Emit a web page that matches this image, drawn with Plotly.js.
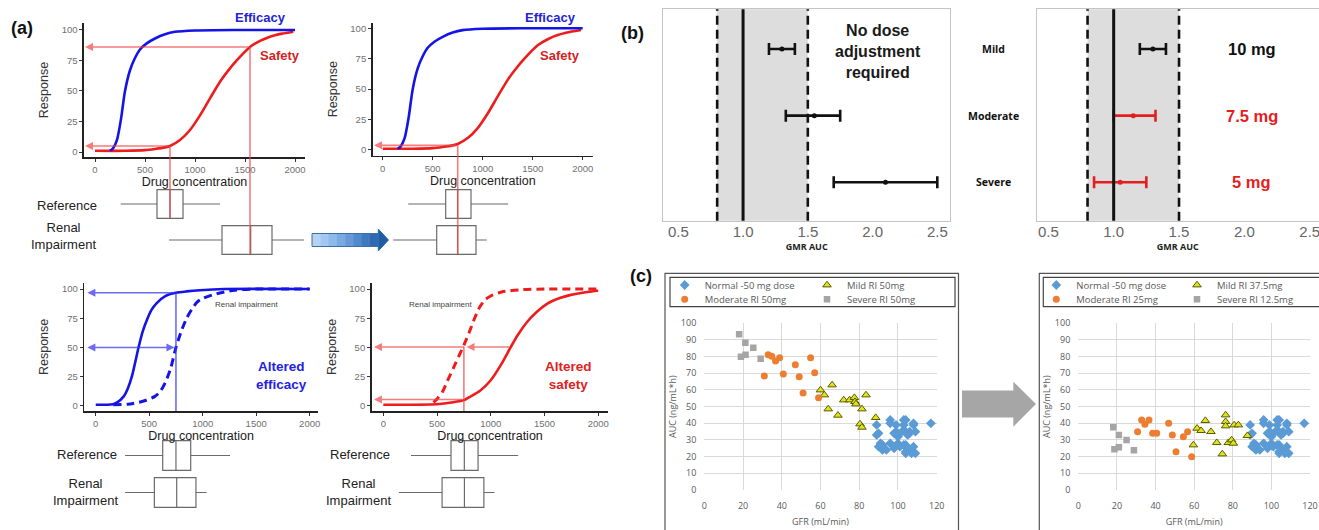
<!DOCTYPE html>
<html><head><meta charset="utf-8">
<script src="https://cdn.plot.ly/plotly-3.0.1.min.js"></script>
<style>html,body{margin:0;padding:0;background:#fff;}#chart{width:1319px;height:530px;}</style>
</head><body><div id="chart"></div>
<script>
// ================= DATA =================
// Panel (a) – concentration / response curves
const effConc   = [150, 180, 220, 260, 300, 350, 400, 450, 517, 600, 700, 800, 1000, 1400, 2000];
const effResp   = [1, 3, 10, 27, 50, 67, 77, 84, 89, 93, 96.5, 98.5, 99.6, 100, 100];
const safConc   = [0, 300, 500, 600, 700, 750, 850, 950, 1050, 1150, 1250, 1330, 1417, 1550, 1650, 1750, 1870, 1983];
const safResp   = [1, 1, 1.5, 2.5, 3.8, 4.9, 9.8, 18, 30, 44, 57.6, 66.5, 75, 86, 91, 94.5, 97, 98.6];
const effConc2  = [0, 160, 200, 260, 300, 340, 400, 440, 480, 520, 570, 650, 750, 850, 975, 1200, 2000];
const effResp2  = [1, 1.5, 3, 8, 15, 26, 50, 64, 74, 82, 88, 94, 96.8, 98, 99, 100, 100];
const effRIConc = [164, 300, 440, 550, 600, 650, 700, 750, 800, 850, 900, 950, 1000, 1130, 1300, 1500, 2000];
const effRIResp = [1, 1.5, 4, 8, 12, 20, 32, 50, 64, 75, 83, 89, 92, 96, 99, 100, 100];
const safConc2  = [0, 500, 600, 700, 750, 810, 900, 1000, 1100, 1184, 1250, 1340, 1430, 1527, 1650, 1745, 1900, 2000];
const safResp2  = [1, 1.5, 2.5, 4, 5, 8, 13, 22, 36, 50, 60.5, 72, 80.5, 87.5, 92.5, 95, 97.5, 98.5];
const safRIConc = [467, 500, 550, 600, 650, 700, 750, 800, 850, 900, 950, 1000, 1100, 1300, 1500, 2000];
const safRIResp = [3, 6, 12, 22, 32, 42, 52, 63, 75, 85, 91, 94, 97.5, 99.5, 100, 100];

// guide lines (concentration, response)
const a1GuideConc = [1550, 750];  const a1GuideResp = [86, 4.9];
const a2GuideConc = [750];        const a2GuideResp = [3.8];
const a3GuideConc = [750, 750];   const a3GuideResp = [96.8, 50];
const a4GuideConc = [1184, 750];  const a4GuideResp = [50.4, 5.5];

// exposure box plots: [Reference, Renal Impairment]
const boxLabels = ['Reference', 'Renal<br>Impairment'];
const a1Low = [257, 740];  const a1Q1 = [620, 1270]; const a1Med = [750, 1557]; const a1Q3 = [880, 1770]; const a1High = [1250, 2090];
const a2Low = [255, 105];  const a2Q1 = [630, 540];  const a2Med = [750, 750];  const a2Q3 = [883, 933];  const a2High = [1255, 1040];
const a3Low = [274, 274];  const a3Q1 = [626, 548];  const a3Med = [750, 757];  const a3Q3 = [888, 937];  const a3High = [1255, 1037];
const a4Low = [258, 144];  const a4Q1 = [630, 547];  const a4Med = [754, 755];  const a4Q3 = [882, 936];  const a4High = [1255, 1035];

// Panel (b) – GMR of AUC with 90% CI
const severity   = ['Mild', 'Moderate', 'Severe'];
const gmrBefore  = [1.3, 1.55, 2.1];
const lowBefore  = [1.2, 1.33, 1.7];
const highBefore = [1.4, 1.75, 2.5];
const gmrAfter   = [1.3, 1.15, 1.05];
const lowAfter   = [1.2, 1.0, 0.85];
const highAfter  = [1.4, 1.32, 1.25];
const doses      = ['10 mg', '7.5 mg', '5 mg'];
const noEffectBounds = [0.8, 1.5];
const gmrUnity = [1.0];
const gmrTicks = [0.5, 1.0, 1.5, 2.0, 2.5];

// Panel (c) – AUC vs GFR
const normalGFR = [89, 89, 90, 91, 90, 92, 92, 94, 96, 96, 96, 98, 99, 100, 100, 100, 101, 98, 99, 103, 104, 103, 102, 104, 105, 106, 103, 104, 105, 104, 104, 106, 108, 108, 108, 109, 107, 109, 117, 100, 104];
const normalAUC = [39, 33, 34, 28, 26, 24, 27, 24, 42, 40, 28, 34, 39, 34, 32, 28, 26, 25, 35, 42, 42, 39, 35, 35, 33, 35, 27, 26, 25, 23, 22, 34, 40, 39, 26, 22, 22, 35, 40, 27, 27];
const mildGFR50 = [60, 62, 64, 66, 69, 72, 75, 77.5, 77.8, 78.3, 80.4, 81.4, 81.4, 83.5, 88.5];
const mildAUC50 = [60, 57, 48.6, 63, 44.8, 54, 54, 55.4, 53, 51.6, 39.6, 37.6, 48.6, 57, 43.4];
const modGFR50  = [31, 33, 34.8, 36.8, 38.9, 40.8, 47, 49, 51, 54.9, 57, 59];
const modAUC50  = [68.4, 81.2, 80.2, 77.4, 79.4, 69.6, 75.2, 68, 58.2, 79.4, 70.4, 55.4];
const sevGFR50  = [18, 18.9, 21.2, 21.3, 25.3, 29.1];
const sevAUC50  = [93.4, 80, 88.4, 81.2, 85.4, 78.8];
const mildGFRAdj = [59.6, 61.5, 63.6, 65.8, 68.7, 71.7, 74.6, 76.3, 76.3, 76.3, 77.7, 79.4, 80.3, 80.7, 82.9, 87.6];
const mildAUCAdj = [27, 37, 35.6, 41.6, 35, 28.4, 21.6, 45, 41, 38.4, 28.4, 30, 28, 39, 39, 32.6];
const modGFRAdj  = [30.7, 32.8, 34.5, 36.6, 38.5, 40.6, 46.8, 48.7, 50.6, 54.4, 56.6, 58.7];
const modAUCAdj  = [35, 42, 39.4, 42, 34, 34, 40, 33, 23, 32, 35, 20];
const sevGFRAdj  = [18.1, 18.7, 21, 21, 25, 28.8];
const sevAUCAdj  = [37.6, 24.4, 25.6, 33, 30, 23.8];
const namesBefore = ['Normal -50 mg dose', 'Mild RI 50mg', 'Moderate RI 50mg', 'Severe RI 50mg'];
const namesAfter  = ['Normal -50 mg dose', 'Mild RI 37.5mg', 'Moderate RI 25mg', 'Severe RI 12.5mg'];

// ================= GEOMETRY (pixels) =================
const W = 1319, H = 530;
const PX = v => v / W;
const PY = v => 1 - v / H;
const G = {
  a1: {x: [84, 305], y: [23, 157], xr: [-110, 2100], yr: [-4.1, 105.7]},
  a1b: {y: [186, 258], yr: [0.5, 2.5]},
  a2: {x: [372.7, 593], y: [22.7, 155.7], xr: [-100, 2103], yr: [-4.7, 104.6]},
  a2b: {y: [186, 258], yr: [0.5, 2.5]},
  a3: {x: [84.3, 318], y: [282.7, 411], xr: [-107, 2078], yr: [-4.3, 105.4]},
  a3b: {y: [437, 511], yr: [0.5, 2.5]},
  a4: {x: [371.7, 608.3], y: [282.7, 411], xr: [-108, 2094], yr: [-4.3, 105.4]},
  a4b: {y: [437, 511], yr: [0.5, 2.5]},
  b1: {x: [663.3, 950], y: [9.3, 220.7], xr: [0.384, 2.598]},
  b2: {x: [1036.7, 1319], y: [9.3, 220.7], xr: [0.411, 2.571]},
  c1: {x: [704.3, 936.7], y: [323.3, 490]},
  c2: {x: [1078.3, 1310], y: [323.3, 490]}
};
function paperY(g, v) {
  const pix = g.y[1] - (v - g.yr[0]) / (g.yr[1] - g.yr[0]) * (g.y[1] - g.y[0]);
  return 1 - pix / H;
}
const domX = g => [PX(g.x[0]), PX(g.x[1])];
const domY = g => [PY(g.y[1]), PY(g.y[0])];

const FA = 'Liberation Sans, Arial, sans-serif';
const FO = 'Open Sans, Noto Sans, sans-serif';
const BLUE = '#1414e6', RED = '#ee1c1c';
const RGUIDE = 'rgba(240,70,70,0.7)', BGUIDE = 'rgba(60,60,240,0.75)';

// ================= AXES =================
const layout = {
  width: W, height: H, margin: {l: 0, r: 0, t: 0, b: 0},
  paper_bgcolor: '#fff', plot_bgcolor: 'rgba(0,0,0,0)',
  font: {family: FA}, showlegend: true,
  annotations: [], shapes: []
};
function chartAxes(n, g) {
  const ax = n === 1 ? '' : n;
  layout['xaxis' + ax] = {
    domain: domX(g), range: g.xr, anchor: 'y' + ax, tick0: 0, dtick: 500,
    showline: true, linecolor: '#222', linewidth: 1.6, ticks: 'outside', ticklen: 3, tickcolor: '#333',
    tickfont: {family: FA, size: 9.5, color: '#707070'}, showgrid: false, zeroline: false,
    title: {text: 'Drug concentration', font: {family: FA, size: 12.5, color: '#1a1a1a'}, standoff: 3}
  };
  layout['yaxis' + ax] = {
    domain: domY(g), range: g.yr, anchor: 'x' + ax, tick0: 0, dtick: 25,
    showline: true, linecolor: '#222', linewidth: 1.6, ticks: 'outside', ticklen: 3, tickcolor: '#333',
    tickfont: {family: FA, size: 9.5, color: '#707070'}, showgrid: false, zeroline: false,
    title: {text: 'Response', font: {family: FA, size: 12.5, color: '#333'}, standoff: 10}
  };
}
function boxAxes(n, g, gb) {
  layout['xaxis' + n] = {domain: domX(g), range: g.xr, anchor: 'y' + n, visible: false};
  layout['yaxis' + n] = {domain: domY({y: gb.y}), range: gb.yr, anchor: 'x' + n, visible: false};
}
chartAxes(1, G.a1); boxAxes(2, G.a1, G.a1b);
chartAxes(3, G.a2); boxAxes(4, G.a2, G.a2b);
chartAxes(5, G.a3); boxAxes(6, G.a3, G.a3b);
chartAxes(7, G.a4); boxAxes(8, G.a4, G.a4b);

function gmrAxes(n, g) {
  layout['xaxis' + n] = {
    domain: domX(g), range: g.xr, anchor: 'y' + n, tickvals: gmrTicks, ticktext: gmrTicks.map(v => v.toFixed(1)),
    showline: true, mirror: true, linecolor: '#c4c4c4', linewidth: 1.2, ticks: '', showgrid: false, zeroline: false,
    tickfont: {family: FA, size: 15, color: '#666'}, ticklabelstandoff: -3, ticklabeloverflow: 'allow',
    title: {text: '<b>GMR AUC</b>', font: {family: FO, size: 9, color: '#222'}, standoff: 0}
  };
  layout['yaxis' + n] = {
    domain: domY(g), type: 'category', categoryorder: 'array', categoryarray: severity,
    range: [2.576, -0.596], anchor: 'x' + n, showline: true, mirror: true, linecolor: '#c4c4c4', linewidth: 1.2,
    showticklabels: false, ticks: '', showgrid: false, zeroline: false
  };
}
gmrAxes(9, G.b1); gmrAxes(10, G.b2);

function scatAxes(n, g) {
  layout['xaxis' + n] = {
    domain: domX(g), range: [0, 120], dtick: 20, anchor: 'y' + n, showgrid: true, gridcolor: '#d9d9d9', gridwidth: 1,
    showline: false, zeroline: false, ticks: '', ticklabelstandoff: 9,
    tickfont: {family: FO, size: 9, color: '#595959'},
    title: {text: 'GFR (mL/min)', font: {family: FO, size: 9, color: '#595959'}, standoff: 7}
  };
  layout['yaxis' + n] = {
    domain: domY(g), range: [0, 100], dtick: 10, anchor: 'x' + n, showgrid: true, gridcolor: '#d9d9d9', gridwidth: 1,
    showline: false, zeroline: false, ticks: '', ticklabelstandoff: 7,
    tickfont: {family: FO, size: 9, color: '#595959'},
    title: {text: 'AUC (ng/mL*h)', font: {family: FO, size: 9, color: '#595959'}, standoff: 2}
  };
}
scatAxes(11, G.c1); scatAxes(12, G.c2);

// ================= TRACES =================
const traces = [];
function curve(xa, ya, xs, ys, color, dash) {
  traces.push({type: 'scatter', mode: 'lines', x: xs, y: ys, xaxis: xa, yaxis: ya,
    line: {color: color, width: dash ? 3 : 2.6, shape: 'spline', smoothing: 0.7, dash: dash || 'solid'},
    hoverinfo: 'skip', showlegend: false});
}
curve('x', 'y', safConc, safResp, RED);
curve('x', 'y', effConc, effResp, BLUE);
curve('x3', 'y3', safConc, safResp, RED);
curve('x3', 'y3', effConc, effResp, BLUE);
curve('x5', 'y5', effConc2, effResp2, BLUE);
curve('x5', 'y5', effRIConc, effRIResp, BLUE, '8px,5px');
curve('x7', 'y7', safConc2, safResp2, RED);
curve('x7', 'y7', safRIConc, safRIResp, RED, '8px,5px');

function boxes(xa, ya, lows, q1s, meds, q3s, highs) {
  for (let i = 0; i < 2; i++) {
    traces.push({type: 'box', orientation: 'h', xaxis: xa, yaxis: ya, y: [2 - i],
      lowerfence: [lows[i]], q1: [q1s[i]], median: [meds[i]], q3: [q3s[i]], upperfence: [highs[i]],
      width: 0.8, whiskerwidth: 0, boxpoints: false, fillcolor: 'rgba(255,255,255,0)',
      line: {color: '#6a6a6a', width: 1.2}, hoverinfo: 'skip', showlegend: false, name: boxLabels[i]});
  }
}
boxes('x2', 'y2', a1Low, a1Q1, a1Med, a1Q3, a1High);
boxes('x4', 'y4', a2Low, a2Q1, a2Med, a2Q3, a2High);
boxes('x6', 'y6', a3Low, a3Q1, a3Med, a3Q3, a3High);
boxes('x8', 'y8', a4Low, a4Q1, a4Med, a4Q3, a4High);

function ciTrace(xa, ya, idx, est, lo, hi, color) {
  traces.push({type: 'scatter', mode: 'markers', xaxis: xa, yaxis: ya,
    x: idx.map(i => est[i]), y: idx.map(i => severity[i]),
    marker: {size: 5, color: color},
    error_x: {type: 'data', symmetric: false, array: idx.map(i => hi[i] - est[i]), arrayminus: idx.map(i => est[i] - lo[i]),
      color: color, thickness: 2.6, width: 6},
    hoverinfo: 'skip', showlegend: false});
}
ciTrace('x9', 'y9', [0, 1, 2], gmrBefore, lowBefore, highBefore, '#111');
ciTrace('x10', 'y10', [0], gmrAfter, lowAfter, highAfter, '#111');
ciTrace('x10', 'y10', [1, 2], gmrAfter, lowAfter, highAfter, '#e41e1e');

const mk = [
  {symbol: 'diamond', size: 7.5, color: '#5b9bd5'},
  {symbol: 'triangle-up', size: 7.5, color: '#e0e41c', line: {color: '#5a5a00', width: 1}},
  {symbol: 'circle', size: 7, color: '#ed7d31'},
  {symbol: 'square', size: 6.5, color: '#a5a5a5'}
];
function groupTraces(xa, ya, sets, names, legOffset) {
  sets.forEach((s, k) => {
    traces.push({type: 'scatter', mode: 'markers', xaxis: xa, yaxis: ya, x: s[0], y: s[1],
      name: names[k], marker: mk[k], hoverinfo: 'skip', showlegend: true,
      legend: 'legend' + (k + legOffset === 1 ? '' : k + legOffset)});
  });
}
groupTraces('x11', 'y11', [[normalGFR, normalAUC], [mildGFR50, mildAUC50], [modGFR50, modAUC50], [sevGFR50, sevAUC50]], namesBefore, 1);
groupTraces('x12', 'y12', [[normalGFR, normalAUC], [mildGFRAdj, mildAUCAdj], [modGFRAdj, modAUCAdj], [sevGFRAdj, sevAUCAdj]], namesAfter, 5);

// legends (one per entry, arranged two per row)
function leg(textPx, rowPx) {
  return {x: PX(textPx - 37), y: PY(rowPx), xanchor: 'left', yanchor: 'middle', orientation: 'h',
    bgcolor: 'rgba(0,0,0,0)', borderwidth: 0, font: {family: FO, size: 9.5, color: '#595959'}};
}
const legPos = [[701.7, 285], [844, 285], [701.7, 299.3], [844, 299.3],
                [1073.3, 285], [1214, 285], [1073.3, 299.3], [1214, 299.3]];
legPos.forEach((p, i) => { layout['legend' + (i === 0 ? '' : i + 1)] = leg(p[0], p[1]); });

// ================= SHAPES / ANNOTATIONS =================
const S = layout.shapes, A = layout.annotations;
function vline(xa, x, y0, y1, color) {
  S.push({type: 'line', xref: xa, yref: 'paper', x0: x, x1: x, y0: y0, y1: y1, line: {color: color, width: 1.6}});
}
function harrow(xa, ya, fromX, toX, y, color, both) {
  A.push({xref: xa, yref: ya, axref: xa, ayref: ya, x: toX, y: y, ax: fromX, ay: y, text: '', showarrow: true,
    arrowhead: 2, arrowsize: 1, arrowwidth: 1.6, arrowcolor: color, standoff: 0, startstandoff: 0,
    arrowside: both ? 'end+start' : 'end'});
}
// (a) top-left
harrow('x', 'y', a1GuideConc[0], -100, a1GuideResp[0], RGUIDE);
harrow('x', 'y', a1GuideConc[1], -100, a1GuideResp[1], RGUIDE);
vline('x', a1GuideConc[0], paperY(G.a1, a1GuideResp[0]), paperY(G.a1b, 0.6), RGUIDE);
vline('x', a1GuideConc[1], paperY(G.a1, a1GuideResp[1]), paperY(G.a1b, 1.6), RGUIDE);
// (a) top-right
harrow('x3', 'y3', a2GuideConc[0], -87, a2GuideResp[0], RGUIDE);
vline('x3', a2GuideConc[0], paperY(G.a2, a2GuideResp[0]), paperY(G.a2b, 0.6), RGUIDE);
// (a) bottom-left
harrow('x5', 'y5', a3GuideConc[0], -78, a3GuideResp[0], BGUIDE);
harrow('x5', 'y5', a3GuideConc[1], -78, a3GuideResp[1], BGUIDE, true);
vline('x5', a3GuideConc[0], paperY(G.a3, a3GuideResp[0]), paperY(G.a3, G.a3.yr[0]), BGUIDE);
// (a) bottom-right
harrow('x7', 'y7', a4GuideConc[0], 775, a4GuideResp[0], RGUIDE);
harrow('x7', 'y7', 765, -87, a4GuideResp[0], RGUIDE);
harrow('x7', 'y7', a4GuideConc[1], -87, a4GuideResp[1], RGUIDE);
vline('x7', a4GuideConc[1], paperY(G.a4, a4GuideResp[0]), paperY(G.a4, G.a4.yr[0]), RGUIDE);

function txt(x, y, t, size, color, opts) {
  A.push(Object.assign({xref: 'paper', yref: 'paper', x: PX(x), y: PY(y), text: t, showarrow: false,
    xanchor: 'center', yanchor: 'middle', font: {family: FA, size: size, color: color}}, opts || {}));
}
txt(21.5, 28, '<b>(a)</b>', 18, '#111');
txt(632, 33, '<b>(b)</b>', 18, '#111');
txt(641, 276, '<b>(c)</b>', 18, '#111');
txt(260, 18, '<b>Efficacy</b>', 13, '#2323d8');
txt(280, 56, '<b>Safety</b>', 13, '#d42222');
txt(550, 18, '<b>Efficacy</b>', 13, '#2323d8');
txt(560, 56, '<b>Safety</b>', 13, '#d42222');
txt(246.7, 304, 'Renal impairment', 8, '#444');
txt(440, 304.3, 'Renal impairment', 8, '#444');
txt(281, 375, '<b>Altered<br>efficacy</b>', 13.5, '#2323e0');
txt(568, 375, '<b>Altered<br>safety</b>', 13.5, '#e02222');
txt(67, 205, boxLabels[0], 13, '#222');
txt(63, 236, boxLabels[1], 13, '#222');
txt(87, 454.5, boxLabels[0], 13, '#222');
txt(85.5, 492, boxLabels[1], 13, '#222');
txt(360, 454.5, boxLabels[0], 13, '#222');
txt(358, 492, boxLabels[1], 13, '#222');

// blue gradient arrow in (a)
const arrowSteps = ['#b5d3f5', '#a3c6f0', '#8fb8ea', '#7aa9e2', '#6599d8', '#5189cd', '#3f79c0', '#3069b2'];
const bx0 = 312, bx1 = 378.3, stepW = (bx1 - bx0) / arrowSteps.length;
arrowSteps.forEach((c, i) => {
  S.push({type: 'rect', xref: 'paper', yref: 'paper', x0: PX(bx0 + i * stepW), x1: PX(bx0 + (i + 1) * stepW + 0.5),
    y0: PY(246.5), y1: PY(233.5), fillcolor: c, line: {width: 0}});
});
S.push({type: 'path', xref: 'paper', yref: 'paper',
  path: `M ${PX(312)},${PY(233.5)} L ${PX(378.3)},${PY(233.5)} L ${PX(378.3)},${PY(229)} L ${PX(388.5)},${PY(240)} L ${PX(378.3)},${PY(251)} L ${PX(378.3)},${PY(246.5)} L ${PX(312)},${PY(246.5)} Z`,
  fillcolor: 'rgba(0,0,0,0)', line: {color: '#3b6fa8', width: 1}});
S.push({type: 'path', xref: 'paper', yref: 'paper',
  path: `M ${PX(378.3)},${PY(229)} L ${PX(388.5)},${PY(240)} L ${PX(378.3)},${PY(251)} Z`,
  fillcolor: '#1f5ea6', line: {width: 0}});

// (b) reference region and lines
[9, 10].forEach(n => {
  S.push({type: 'rect', xref: 'x' + n, yref: 'y' + n + ' domain', x0: noEffectBounds[0], x1: noEffectBounds[1], y0: 0, y1: 1,
    fillcolor: '#dddddd', line: {width: 0}, layer: 'below'});
  noEffectBounds.forEach(b => S.push({type: 'line', xref: 'x' + n, yref: 'y' + n + ' domain', x0: b, x1: b, y0: 0, y1: 1,
    line: {color: '#111', width: 2.6, dash: '9px,5px'}}));
  S.push({type: 'line', xref: 'x' + n, yref: 'y' + n + ' domain', x0: gmrUnity[0], x1: gmrUnity[0], y0: 0, y1: 1,
    line: {color: '#111', width: 3}});
});
txt(878, 51.5, '<b>No dose<br>adjustment<br>required</b>', 16, '#1a1a1a');
severity.forEach((s, i) => {
  A.push({xref: 'paper', yref: 'y10', x: PX(994), y: s, text: '<b>' + s + '</b>', showarrow: false,
    xanchor: 'center', yanchor: 'middle', font: {family: FO, size: 10.5, color: '#111'}});
  A.push({xref: 'x10', yref: 'y10', x: 2.056, y: s, text: '<b>' + doses[i] + '</b>', showarrow: false,
    xanchor: 'center', yanchor: 'middle', font: {family: FA, size: 16.5, color: i === 0 ? '#111' : '#e41e1e'}});
});

// (c) chart frames, legend frames and arrow
function rectPx(x0, y0, x1, y1, color, w) {
  S.push({type: 'rect', xref: 'paper', yref: 'paper', x0: PX(x0), x1: PX(x1), y0: PY(y1), y1: PY(y0),
    line: {color: color, width: w}, fillcolor: 'rgba(0,0,0,0)'});
}
rectPx(665, 273.3, 958.5, 545, '#555', 1.2);
rectPx(670, 277.3, 955, 306.7, '#444', 1.2);
rectPx(1039.3, 273.3, 1330, 545, '#555', 1.2);
rectPx(1043.3, 277.3, 1330, 306.7, '#444', 1.2);
S.push({type: 'path', xref: 'paper', yref: 'paper',
  path: `M ${PX(962)},${PY(390.5)} L ${PX(1013.3)},${PY(390.5)} L ${PX(1013.3)},${PY(381.7)} L ${PX(1036)},${PY(404)} L ${PX(1013.3)},${PY(426.7)} L ${PX(1013.3)},${PY(417.5)} L ${PX(962)},${PY(417.5)} Z`,
  fillcolor: '#a6a6a6', line: {width: 0}});

Plotly.newPlot('chart', traces, layout, {staticPlot: true, displayModeBar: false});
</script>
</body></html>
